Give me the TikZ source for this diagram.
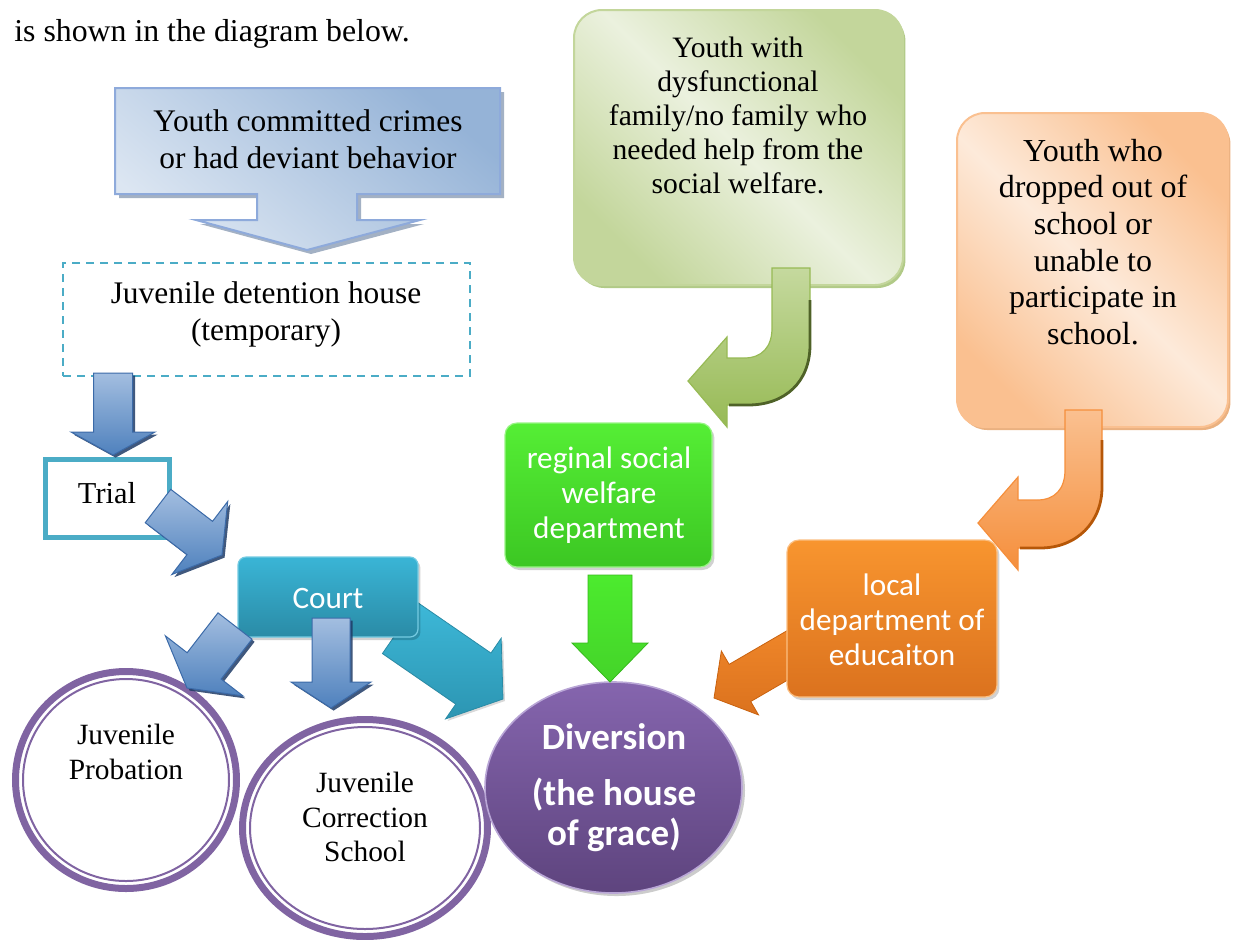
\documentclass[tikz,border=0pt]{standalone}
\usepackage{fontspec}
\setmainfont{Liberation Serif}
\newfontfamily\calibri{Carlito}
\usetikzlibrary{calc,shadows,shapes.geometric}

\definecolor{callLight}{HTML}{DCE6F2}
\definecolor{callDark}{HTML}{95B3D7}
\definecolor{callEdge}{HTML}{8EAADB}
\definecolor{callShadow}{HTML}{8C9DB5}
\definecolor{tealLine}{HTML}{4BACC6}
\definecolor{bluTop}{HTML}{A3BEE0}
\definecolor{bluBot}{HTML}{4F81BD}
\definecolor{bluEdge}{HTML}{3B6AA8}
\definecolor{bluShadow}{HTML}{1F3B66}
\definecolor{courtTop}{HTML}{3AB5D6}
\definecolor{courtBot}{HTML}{2A8BA6}
\definecolor{tealArrTop}{HTML}{3DB8D8}
\definecolor{tealArrBot}{HTML}{2C95B2}
\definecolor{purpleRing}{HTML}{8064A2}
\definecolor{divTop}{HTML}{8565AE}
\definecolor{divBot}{HTML}{5E447E}
\definecolor{divEdge}{HTML}{B9A6D6}
\definecolor{sageLight}{HTML}{EBF1DE}
\definecolor{sageDark}{HTML}{C3D69B}
\definecolor{sageEdge}{HTML}{A9C47A}
\definecolor{oliveTop}{HTML}{C5D99E}
\definecolor{oliveBot}{HTML}{97BA55}
\definecolor{oliveDark}{HTML}{4F6228}
\definecolor{limeTop}{HTML}{55EE35}
\definecolor{limeBot}{HTML}{3CC723}
\definecolor{limeArrow}{HTML}{4CEB2E}
\definecolor{limeArrowDark}{HTML}{36B81C}
\definecolor{peachLight}{HTML}{FDEADA}
\definecolor{peachDark}{HTML}{FAC090}
\definecolor{peachEdge}{HTML}{E8A872}
\definecolor{amberTop}{HTML}{FAC090}
\definecolor{amberBot}{HTML}{F58F3C}
\definecolor{amberDark}{HTML}{B65708}
\definecolor{carrotTop}{HTML}{F8952F}
\definecolor{carrotBot}{HTML}{DB721E}
\definecolor{carrotArrow}{HTML}{EF8629}
\definecolor{carrotArrowDark}{HTML}{C9620F}

% Block arrow: #1 style, #2 tail, #3 tip, #4 half shaft width,
% #5 half head width, #6 head length
\newcommand{\blockarrow}[6]{%
  \path ($(#3)!#6!(#2)$) coordinate (neck);
  \path[#1] ($(#2)!#4!90:(#3)$) -- ($(neck)!#4!90:(#3)$) -- ($(neck)!#5!90:(#3)$)
    -- (#3) -- ($(neck)!#5!-90:(#3)$) -- ($(neck)!#4!-90:(#3)$)
    -- ($(#2)!#4!-90:(#3)$) -- cycle;}

\begin{document}
\begin{tikzpicture}[x=0.5pt, y=-0.5pt,
  serif/.style={font=\fontsize{15.7}{18.5}\selectfont, align=center, inner sep=0pt},
  serifsmall/.style={font=\fontsize{14.7}{17.3}\selectfont, align=center, inner sep=0pt},
  whitetext/.style={font=\calibri\fontsize{15.6}{17.5}\selectfont, text=white, align=center, inner sep=0pt},
  bluearrow/.style={top color=bluTop, bottom color=bluBot, draw=bluEdge, line width=0.5pt,
    drop shadow={shadow xshift=1.3pt, shadow yshift=-1.3pt, fill=bluShadow, opacity=0.85}},
  tealarrow/.style={top color=tealArrTop, bottom color=tealArrBot, draw=courtBot, line width=0.4pt,
    drop shadow={shadow xshift=1pt, shadow yshift=-1pt, fill=gray, opacity=0.3}},
  limearrow/.style={top color=limeArrow, bottom color=limeArrow!90!black, draw=limeArrowDark, line width=0.4pt},
  carrotarrow/.style={top color=carrotArrow, bottom color=carrotBot, draw=carrotArrowDark, line width=0.4pt},
  ring/.style={ellipse, draw=purpleRing, line width=3.5pt, inner sep=0pt},
  softbox/.style={rounded corners=14pt, inner sep=0pt, line width=1pt},
  solidbox/.style={rounded corners=6pt, inner sep=0pt, line width=0.6pt,
    drop shadow={shadow xshift=1.2pt, shadow yshift=-1.5pt, fill=black, opacity=0.18}}]
\useasboundingbox (0,0) rectangle (1236,939);

% opening line of text
\node[anchor=base west, font=\fontsize{15.9}{19}\selectfont, inner sep=0pt] (intro) at (14,41) {is shown in the diagram below.};

% callout with downward arrow
\path[top color=callDark, bottom color=callLight, shading angle=-40, draw=callEdge, line width=1pt,
      drop shadow={shadow xshift=2pt, shadow yshift=-2pt, fill=callShadow, opacity=0.8}]
  (115,88) -- (500,88) -- (500,194) -- (357,194) -- (357,220) -- (420,220) -- (307,250)
  -- (196,220) -- (257,220) -- (257,194) -- (115,194) -- cycle;
\node[serif] (crimes) at (308,139) {Youth committed crimes\\or had deviant behavior};

% temporary detention
\node[draw=tealLine, dash pattern=on 4pt off 3pt, line width=1pt, minimum width=203.5pt,
      minimum height=56.5pt, inner sep=0pt] (detention) at (266.5,319.5) {};
\node[serif] (detention-text) at (266,314) {Juvenile detention house\\(temporary)};

% trial
\node[draw=tealLine, line width=2.5pt, minimum width=62pt, minimum height=39pt, inner sep=0pt] (trial) at (107.5,498.5) {};
\node[font=\fontsize{15.2}{18}\selectfont, inner sep=0pt] (trial-text) at (107,493) {Trial};

% outcomes
\node[ring, minimum width=110.5pt, minimum height=108.5pt] (probation) at (126,780) {};
\draw[purpleRing, line width=1pt] (probation.center) ellipse [x radius=51.5pt, y radius=50.5pt];
\node[serifsmall] (probation-text) at (126,752) {Juvenile\\Probation};

\node[ring, minimum width=122.5pt, minimum height=108.5pt] (correction) at (365,828) {};
\draw[purpleRing, line width=1pt] (correction.center) ellipse [x radius=57.5pt, y radius=50.5pt];
\node[serifsmall] (correction-text) at (365,817) {Juvenile\\Correction\\School};

\node[ellipse, minimum width=128.5pt, minimum height=105.5pt, inner sep=0pt,
      top color=divTop, bottom color=divBot, draw=divEdge, line width=0.8pt,
      drop shadow={shadow xshift=1.5pt, shadow yshift=-1.5pt, fill=black, opacity=0.2}] (diversion) at (613.5,787.5) {};
\node[font=\calibri\bfseries\fontsize{18.5}{20}\selectfont, text=white, align=center, inner sep=0pt]
  (diversion-text) at (614,788) {Diversion\\[8pt](the house\\of grace)};

% arrow end points
\coordinate (det-out)   at (113,373);
\coordinate (trial-in)  at (113,455);
\coordinate (trial-out) at (158,506);
\coordinate (court-in)  at (222,555);
\coordinate (court-sw)  at (235,626);
\coordinate (prob-in)   at (187,688);
\coordinate (court-s)   at (331,618);
\coordinate (corr-in)   at (331,708);
\coordinate (court-se)  at (400,628);
\coordinate (div-nw)    at (503,699);
\coordinate (welfare-s) at (610,575);
\coordinate (div-n)     at (610,682);
\coordinate (edu-w)     at (800,648);
\coordinate (div-ne)    at (714,698);

\blockarrow{bluearrow}{det-out}{trial-in}{9.75pt}{21pt}{11.5pt}
\blockarrow{bluearrow}{trial-out}{court-in}{10.5pt}{23pt}{14pt}
\blockarrow{tealarrow}{court-se}{div-nw}{15.5pt}{24.5pt}{18pt}

% court
\node[solidbox, top color=courtTop, bottom color=courtBot, draw=courtTop!70!white,
      minimum width=90pt, minimum height=40pt, rounded corners=4pt] (court) at (328,597) {};
\node[whitetext] (court-text) at (328,598) {Court};

\blockarrow{bluearrow}{court-sw}{prob-in}{10.75pt}{24.5pt}{14pt}
\blockarrow{bluearrow}{court-s}{corr-in}{9.5pt}{20pt}{13pt}

% social welfare branch
\node[softbox, left color=sageDark, right color=sageDark, middle color=sageLight, shading angle=135,
      draw=sageDark, minimum width=164.5pt, minimum height=137.5pt,
      drop shadow={shadow xshift=1.2pt, shadow yshift=-1.5pt, fill=sageEdge, opacity=0.9}] (family) at (738.5,147.5) {};
\node[font=\fontsize{14.8}{17}\selectfont, align=center, inner sep=0pt] (family-text) at (738,115)
  {Youth with\\dysfunctional\\family/no family who\\needed help from the\\social welfare.};

\path[top color=oliveTop, bottom color=oliveBot, draw=oliveBot, line width=0.6pt]
  (772,268) -- (772,328) .. controls (772,347) and (762,358) .. (744,358) -- (727,358)
  -- (727,337) -- (688,381) -- (727,427) -- (727,405) -- (748,405)
  .. controls (785,405) and (810,382) .. (810,345) -- (810,268) -- cycle;
\draw[oliveDark, line width=1.4pt] (810,300) -- (810,345) .. controls (810,382) and (785,405) .. (748,405) -- (729,405);

\node[solidbox, top color=limeTop, bottom color=limeBot, draw=limeTop!60!white,
      minimum width=103.5pt, minimum height=72pt] (welfare) at (608.5,495) {};
\node[whitetext] (welfare-text) at (609,495) {reginal social\\welfare\\department};

\blockarrow{limearrow}{welfare-s}{div-n}{11pt}{19pt}{19.5pt}

% education branch
\node[softbox, left color=peachDark, right color=peachDark, middle color=peachLight, shading angle=135,
      draw=peachDark, minimum width=135.5pt, minimum height=157pt,
      drop shadow={shadow xshift=1.2pt, shadow yshift=-1.5pt, fill=peachEdge, opacity=0.9}] (dropout) at (1092.5,270) {};
\node[font=\fontsize{16}{18.3}\selectfont, align=center, inner sep=0pt] (dropout-text) at (1093,242)
  {Youth who\\dropped out of\\school or\\unable to\\participate in\\school.};

\path[top color=amberTop, bottom color=amberBot, draw=amberBot, line width=0.6pt]
  (1065,410) -- (1065,470) .. controls (1065,489) and (1055,500) .. (1037,500) -- (1018,500)
  -- (1018,477) -- (978,523) -- (1018,570) -- (1018,548) -- (1040,548)
  .. controls (1077,548) and (1102,522) .. (1102,487) -- (1102,410) -- cycle;
\draw[amberDark, line width=1.4pt] (1102,440) -- (1102,487) .. controls (1102,522) and (1077,548) .. (1040,548) -- (1020,548);

\blockarrow{carrotarrow}{edu-w}{div-ne}{10.75pt}{18.5pt}{15pt}

\node[solidbox, top color=carrotTop, bottom color=carrotBot, draw=carrotTop!60!white,
      minimum width=105pt, minimum height=78.5pt] (education) at (892,618.5) {};
\node[whitetext] (education-text) at (892,620) {local\\department of\\educaiton};
\end{tikzpicture}
\end{document}
